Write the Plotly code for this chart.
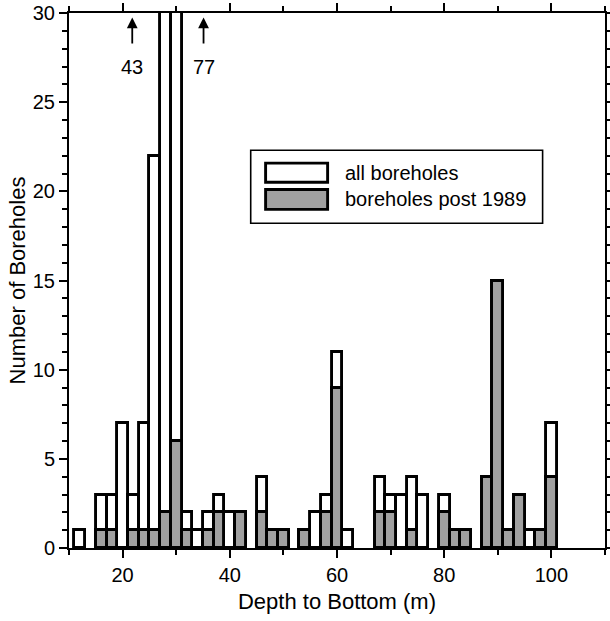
import plotly.graph_objects as go

# Bin centres (2 m bins) and counts
depth_bins = [12, 16, 18, 20, 22, 24, 26, 28, 30, 32, 34, 36, 38, 40, 42,
              46, 48, 50, 54, 56, 58, 60, 62, 68, 70, 72, 74, 76, 80, 82,
              84, 88, 90, 92, 94, 96, 98, 100]
all_boreholes = [1, 3, 3, 7, 3, 7, 22, 43, 77, 2, 1, 2, 3, 2, 2,
                 4, 1, 1, 1, 2, 3, 11, 1, 4, 3, 3, 4, 3, 3, 1,
                 1, 4, 15, 1, 3, 1, 1, 7]
post_1989 = [0, 1, 1, 0, 1, 1, 1, 2, 6, 1, 0, 1, 2, 0, 2,
             2, 1, 1, 1, 0, 2, 9, 0, 2, 2, 0, 1, 0, 2, 1,
             1, 4, 15, 1, 3, 0, 1, 4]
series_names = ["all boreholes", "boreholes post 1989"]
off_scale_x = [21.8, 35.1]       # where the off-scale labels sit
off_scale_val = [43, 77]         # true counts of the clipped bars

FONT = "Liberation Sans, Arial, Helvetica, sans-serif"
BAR_W = 2

fig = go.Figure()
fig.add_trace(go.Bar(x=depth_bins, y=all_boreholes, width=BAR_W, name=series_names[0],
                     marker=dict(color="white", line=dict(color="black", width=2.9)),
                     showlegend=False))
fig.add_trace(go.Bar(x=depth_bins, y=post_1989, width=BAR_W, name=series_names[1],
                     marker=dict(color="#a0a0a0", line=dict(color="black", width=2.9)),
                     showlegend=False))

# arrows for off-scale bars
for xpos, val in zip(off_scale_x, off_scale_val):
    fig.add_annotation(x=xpos, y=29.75, ax=xpos, ay=28.2, axref="x", ayref="y",
                       xref="x", yref="y", showarrow=True, arrowhead=2, arrowsize=1.2,
                       arrowwidth=1.8, arrowcolor="black", text="")
    fig.add_annotation(x=xpos, y=27.0, text=str(val), showarrow=False,
                       xref="x", yref="y", font=dict(family=FONT, size=20, color="black"))

# legend drawn as a framed box with wide swatches (paper coords of the plot area)
fig.add_shape(type="rect", xref="paper", yref="paper", x0=0.3390, x1=0.8836, y0=0.6069, y1=0.7434,
              line=dict(color="black", width=1.6), fillcolor="white", layer="above", opacity=1)
swatch_y = [(0.6836, 0.7193), (0.6330, 0.6700)]
swatch_fill = ["white", "#a0a0a0"]
for (y0, y1), fill, name in zip(swatch_y, swatch_fill, series_names):
    fig.add_shape(type="rect", xref="paper", yref="paper", x0=0.3668, x1=0.4825, y0=y0, y1=y1,
                  line=dict(color="black", width=2.9), fillcolor=fill, layer="above", opacity=1)
    fig.add_annotation(x=0.5104, y=(y0 + y1) / 2, xref="paper", yref="paper", text=name,
                       showarrow=False, xanchor="left", yanchor="middle",
                       font=dict(family=FONT, size=20, color="black"))

axis_common = dict(showgrid=False, zeroline=False, showline=True, linecolor="black", linewidth=2,
                   mirror="allticks", ticks="outside", tickcolor="black", tickwidth=2, ticklen=8,
                   automargin=False, tickfont=dict(family=FONT, size=20, color="black"))
fig.update_xaxes(range=[10, 110], dtick=20,
                 minor=dict(dtick=10, ticks="outside", ticklen=5, tickcolor="black", tickwidth=2),
                 title=dict(text="Depth to Bottom (m)", font=dict(family=FONT, size=22, color="black"), standoff=9),
                 **axis_common)
fig.update_yaxes(range=[0, 30], dtick=5,
                 minor=dict(dtick=1, ticks="outside", ticklen=5, tickcolor="black", tickwidth=2),
                 title=dict(text="Number of Boreholes", font=dict(family=FONT, size=22, color="black"), standoff=1),
                 **axis_common)

fig.update_layout(width=610, height=621, barmode="overlay", bargap=0,
                  plot_bgcolor="white", paper_bgcolor="white",
                  margin=dict(l=69, r=5, t=13, b=73),
                  font=dict(family=FONT, color="black"))

fig.write_html("out.html", config={"displayModeBar": False},
               post_script="document.body.style.margin='0';")
